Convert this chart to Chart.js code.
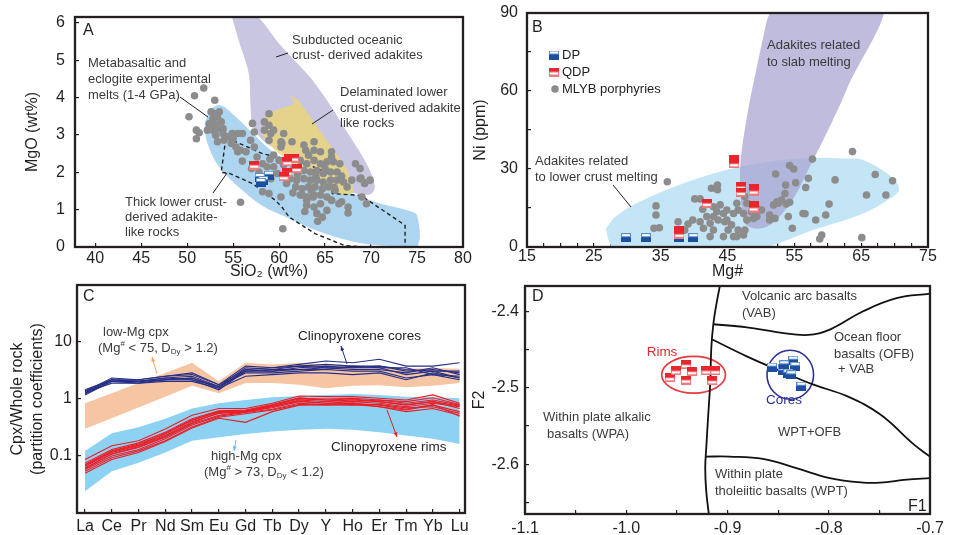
<!DOCTYPE html>
<html>
<head>
<meta charset="utf-8">
<script src="https://cdn.jsdelivr.net/npm/chart.js@4.4.1/dist/chart.umd.min.js"></script>
<style>
  body { margin: 0; background: #fff; width: 953px; height: 535px; position: relative; overflow: hidden; }
  canvas { position: absolute; }
</style>
</head>
<body>
<canvas id="cA" width="480" height="285" style="left:0;top:0"></canvas>
<canvas id="cB" width="491" height="285" style="left:462px;top:0"></canvas>
<canvas id="cC" width="480" height="255" style="left:0;top:280px"></canvas>
<canvas id="cD" width="491" height="255" style="left:462px;top:280px"></canvas>
<script>
// ── Panel A: MgO vs SiO2 ──
const siO2Ticks = [40, 45, 50, 55, 60, 65, 70, 75, 80];
const mgOTicks  = [0, 1, 2, 3, 4, 5, 6];
const mlybA = [
  [51.8,4.26],[50.8,4.05],[53.0,3.93],[50.2,3.49],[51.0,3.13],[51.3,3.06],[51.0,2.90],[55.8,1.2],[60.4,0.49],
  [64.2,0.69],[64.7,0.80],[67.5,1.07],[67.5,0.91],[68.9,1.85],[69.3,1.72],[66.8,1.21],[65.7,1.25],[63.0,1.25],
  [63.7,1.34],[62.5,1.39],[52.6,3.62],[53.1,3.57],[53.5,3.62],[52.8,3.44],[53.3,3.48],[52.4,3.30],[53.0,3.30],
  [53.7,3.35],[52.2,3.13],[52.8,3.13],[53.3,3.17],[53.9,3.17],[53.1,2.99],[53.9,3.04],[54.4,2.95],[54.9,3.04],
  [55.5,3.04],[56.0,3.04],[53.3,2.82],[54.0,2.86],[54.8,2.77],[55.3,2.68],[55.8,2.59],[56.4,2.55],[55.5,2.55],
  [56.9,2.86],[57.3,2.68],[57.1,3.31],[57.3,3.08],[58.4,3.13],[58.9,3.26],[59.1,3.04],[58.9,2.86],[57.6,2.41],
  [58.2,2.23],[58.7,2.15],[57.8,2.01],[58.4,1.79],[59.4,2.46],[60.0,2.32],[60.2,2.68],[60.3,2.77],[59.4,2.15],
  [59.8,1.97],[59.1,1.83],[58.2,1.48],[58.9,1.43],[60.2,1.34],[61.4,2.82],[62.9,2.59],[63.2,2.46],[63.8,2.59],
  [64.5,2.55],[65.7,2.55],[62.3,2.32],[63.0,2.23],[63.8,2.32],[64.5,2.23],[65.2,2.28],[65.9,2.28],[66.6,2.23],
  [62.7,2.05],[63.4,2.01],[64.1,2.05],[64.8,1.97],[65.6,2.01],[66.3,2.01],[61.2,1.83],[61.9,1.79],[62.7,1.83],
  [63.4,1.79],[64.1,1.79],[64.8,1.74],[65.6,1.79],[66.3,1.79],[61.8,1.61],[62.5,1.56],[63.2,1.61],[63.9,1.61],
  [64.7,1.56],[65.4,1.61],[62.3,1.39],[63.0,1.34],[63.8,1.39],[64.5,1.39],[65.2,1.34],[66.1,1.52],[63.0,1.12],
  [63.8,1.07],[64.5,1.16],[65.7,1.25],[66.5,1.16],[64.1,0.90],[65.2,0.98],[67.0,1.74],[67.4,1.61],[67.9,1.79],
  [68.8,1.83],[69.3,1.70],[69.0,1.34],[69.5,1.16],[69.9,1.79],[58.9,3.57],[58.4,3.35],[59.4,3.13],[60.5,3.04],
  [60.2,2.82],[62.7,2.73],[63.8,2.82],[65.7,2.41],[68.3,2.23],[68.8,2.10],[61.6,2.1],[62.0,1.95],[60.8,1.7],
  [61.5,1.45],[62.8,0.95],[63.5,1.5],[64.0,1.9],[65.0,2.1],[66.0,1.6],[66.8,1.9],[60.5,2.2],[59.0,2.35],
  [56.0,2.3],[57.0,2.1],[55.0,2.9]
];
const qdpA = [[57.3,2.19],[61.1,2.38],[61.6,2.38],[60.9,2.28],[61.9,2.1],[60.9,2.0],[60.5,1.88]];
const dpA  = [[58.9,1.92],[57.9,1.86],[58.3,1.78],[58.0,1.73]];
const fieldMetabasalt = [
  [52.4,3.68],[53.5,3.8],[54.6,3.64],[57.1,3.05],[59.3,2.55],[61.4,2.25],[63.9,1.95],[67.5,1.48],[71.1,1.16],
  [74.0,0.98],[75.0,0.85],[75.0,0.03],[72.0,0.03],[68.5,0.12],[64.0,0.45],[60.8,0.8],[58.2,1.1],[55.4,1.65],
  [53.3,2.2],[52.1,2.86],[51.9,3.3]
];
const fieldSlabA = [
  [54.7,6.3],[57.0,6.3],[60.3,5.36],[63.9,4.38],[67.5,3.04],[69.7,2.14],[70.4,1.62],[70.0,1.42],[68.6,1.42],
  [65.7,1.62],[62.5,2.2],[60.3,2.55],[58.5,2.8],[57.2,3.2],[56.9,3.75],[56.7,4.65],[55.7,5.45]
];
const fieldDelaminated = [
  [61.1,4.07],[61.6,3.85],[59.6,3.66],[58.5,3.49],[58.2,3.04],[58.9,2.77],[60.0,2.5],[62.1,2.14],[64.3,1.79],
  [65.7,1.47],[67.9,1.43],[67.9,1.7],[67.2,2.14],[65.7,2.68],[63.9,3.3],[62.1,3.93]
];
const fieldThickCrust = [
  [54.2,2.9],[53.7,2.0],[54.6,1.97],[57.1,1.7],[59.6,1.25],[60.3,1.07],[61.1,0.8],[63.9,0.36],[67.1,0.04],
  [69.5,0],[73.7,0],[73.7,0.58],[68.9,1.38],[65.8,1.43],[65.4,1.97],[62.9,2.23],[58.2,2.5],[54.9,2.86],[54.2,2.9]
];

// ── Panel B: Ni vs Mg# ──
const mgNoTicks = [15,17.5,20,22.5,25,27.5,30,32.5,35,37.5,40,42.5,45,47.5,50,52.5,55,57.5,60,62.5,65,67.5,70,72.5,75];
const niTicks   = [0, 15, 30, 45, 60, 75, 90];
const mlybB = [
  [36.0,25.1],[34.3,15.8],[34.3,12.3],[34.0,7.2],[34.8,7.4],[37.6,9.7],[39.1,8.8],[39.8,10.4],[38.6,6.5],
  [40.1,18.5],[40.9,18.5],[41.3,14.5],[41.9,11.7],[40.9,9.7],[41.4,7.2],[42.4,9.1],[42.9,6.5],[42.4,4.0],
  [42.6,22.6],[43.5,23.8],[43.5,22.0],[42.9,15.5],[43.9,16.2],[43.4,13.6],[44.4,12.9],[43.6,10.4],[44.6,9.7],
  [42.9,11.7],[44.9,14.2],[45.9,12.9],[44.9,10.4],[45.6,8.5],[45.1,6.5],[45.9,4.0],[44.4,4.0],[46.4,4.0],
  [46.4,16.8],[46.6,14.2],[47.4,12.9],[47.9,10.4],[46.6,6.5],[47.6,6.5],[47.4,4.6],[47.6,19.4],[47.9,16.8],
  [48.6,13.6],[48.9,11.0],[49.4,11.7],[50.1,14.2],[49.4,14.9],[51.3,12.3],[51.3,10.4],[51.9,16.2],[52.6,16.8],
  [53.1,18.1],[52.1,11.0],[52.4,17.4],[52.2,28.1],[53.6,20.6],[53.8,16.5],[54.3,17.2],[54.1,11.7],[54.7,7.2],
  [54.3,31.3],[54.9,30.0],[55.2,24.7],[53.7,23.8],[57.1,26.4],[56.7,22.9],[56.3,12.9],[56.6,12.8],[57.7,33.8],
  [58.2,10.4],[58.8,3.1],[59.1,4.6],[59.7,12.3],[60.2,16.5],[61.1,25.8],[63.7,36.7],[65.8,20.0],[67.1,27.9],
  [68.7,20.0],[69.7,25.5],[65.1,3.6]
];
const qdpB = [[46.0,33.5],[46.0,32.0],[47.0,23.2],[47.0,21.0],[48.9,22.5],[48.9,21.5],[48.9,16.0],[48.9,15.0],[41.9,16.8],[37.8,6.3],[37.8,4.9]];
const dpB  = [[29.8,3.6],[32.8,3.6],[37.8,3.6],[39.9,3.6]];
const fieldLowerCrust = [
  [26.8,7.0],[27.3,2.0],[28.5,-3],[45,-3],[50.4,-0.5],[57.8,6.5],[65.3,12.9],[69.8,19.4],[70.7,22.5],
  [69.3,27.5],[65.3,33.5],[62.8,34.0],[57.8,34.3],[50.4,32.5],[42.9,28.3],[35.9,22.0],[30.4,15.5],[27.9,11.0]
];
const fieldSlabB = [
  [52.3,96],[68.2,96],[62.8,60.4],[59.8,43.7],[57.3,30.9],[55.3,20.6],[52.8,11.7],[50.9,7.8],[48.9,7.2],
  [47.6,9.1],[47.1,15.5],[46.9,30.9],[47.9,50.1],[49.4,69.4],[50.9,87.3]
];

// ── Panel C: Cpx / whole rock partition coefficients ──
const ree = ['La','Ce','Pr','Nd','Sm','Eu','Gd','Tb','Dy','Y','Ho','Er','Tm','Yb','Lu'];
const cpxTicks = [0.1, 1, 10];
const lowMgUpper  = [0.84, 1.26, 1.9, 2.87, 4.33, 2.04, 4.33, 4.05, 4.33, 4.05, 3.9, 3.7, 3.4, 3.5, 3.4];
const lowMgLower  = [0.3, 0.46, 0.71, 1.1, 1.7, 1.26, 1.9, 1.9, 1.78, 1.55, 1.7, 1.75, 1.6, 1.7, 1.9];
const highMgUpper = [0.123, 0.25, 0.32, 0.45, 0.68, 0.84, 0.96, 1.07, 1.13, 1.18, 1.23, 1.18, 1.1, 1.07, 1.03];
const highMgLower = [0.024, 0.054, 0.076, 0.115, 0.185, 0.213, 0.244, 0.27, 0.288, 0.3, 0.288, 0.26, 0.228, 0.2, 0.162];
const cpxCores = [
  [1.18, 2.04, 1.9, 2.18, 2.34, 1.55, 3.3, 3.08, 3.53, 3.78, 3.53, 3.53, 2.68, 3.08, 2.34],
  [1.26, 2.18, 2.04, 2.34, 2.5, 1.66, 3.53, 3.3, 3.78, 4.05, 3.78, 3.78, 3.08, 3.3, 2.87],
  [1.35, 2.34, 2.18, 2.5, 2.87, 1.78, 3.78, 3.53, 4.05, 4.64, 4.33, 4.97, 3.78, 3.78, 4.33],
  [1.45, 2.18, 2.04, 2.18, 2.18, 1.66, 2.87, 2.87, 3.08, 3.3, 3.08, 3.08, 2.34, 2.68, 2.18],
  [1.3, 1.9, 1.9, 2.04, 2.04, 1.55, 2.5, 2.68, 2.87, 2.87, 2.68, 2.87, 2.18, 2.87, 2.34],
  [1.35, 2.04, 2.04, 2.34, 2.18, 1.45, 3.08, 3.08, 3.3, 3.53, 3.3, 3.3, 2.87, 3.53, 2.68],
  [1.4, 2.18, 2.18, 2.5, 2.68, 1.78, 3.3, 3.53, 3.78, 3.53, 3.53, 3.78, 3.3, 3.08, 3.08],
  [1.22, 2.04, 2.04, 2.18, 2.34, 1.66, 3.08, 3.3, 3.3, 3.3, 3.78, 3.53, 3.53, 2.68, 2.5]
];
const cpxRims = [
  [0.087, 0.151, 0.185, 0.299, 0.518, 0.68, 0.68, 0.84, 1.13, 1.10, 1.10, 1.03, 0.96, 1.18, 0.84],
  [0.071, 0.123, 0.162, 0.244, 0.422, 0.6, 0.62, 0.78, 1.03, 1.0, 1.03, 0.96, 0.84, 0.96, 0.78],
  [0.062, 0.107, 0.141, 0.213, 0.368, 0.52, 0.6, 0.7, 0.9, 0.84, 0.9, 0.84, 0.73, 0.84, 0.73],
  [0.054, 0.093, 0.123, 0.185, 0.321, 0.48, 0.55, 0.64, 0.8, 0.78, 0.8, 0.73, 0.64, 0.78, 0.6],
  [0.05, 0.087, 0.115, 0.18, 0.31, 0.46, 0.39, 0.6, 0.78, 0.8, 0.84, 0.73, 0.6, 0.68, 0.52],
  [0.066, 0.115, 0.151, 0.23, 0.4, 0.56, 0.6, 0.73, 0.96, 0.9, 0.96, 0.9, 0.78, 0.9, 0.68],
  [0.058, 0.1, 0.13, 0.2, 0.35, 0.5, 0.58, 0.66, 0.84, 0.8, 0.78, 0.8, 0.7, 0.73, 0.56],
  [0.075, 0.13, 0.17, 0.26, 0.45, 0.62, 0.64, 0.8, 1.05, 0.96, 0.9, 0.96, 0.9, 1.05, 0.8],
  [0.06, 0.11, 0.145, 0.22, 0.38, 0.58, 0.6, 0.75, 0.92, 0.84, 0.84, 0.78, 0.66, 0.8, 0.5],
  [0.068, 0.12, 0.155, 0.25, 0.43, 0.6, 0.62, 0.77, 1.0, 0.96, 1.0, 0.9, 0.8, 0.9, 0.75]
];

// ── Panel D: F1–F2 discrimination ──
const f1Ticks = [-1.1,-1.05,-1.0,-0.95,-0.9,-0.85,-0.8,-0.75,-0.7];
const f2Ticks = [-2.65,-2.6,-2.55,-2.5,-2.45,-2.4];
const rimsD  = [[-0.957,-2.487],[-0.951,-2.478],[-0.941,-2.470],[-0.935,-2.479],[-0.941,-2.490],[-0.921,-2.478],[-0.912,-2.478],[-0.915,-2.491]];
const coresD = [[-0.856,-2.473],[-0.845,-2.475],[-0.835,-2.464],[-0.833,-2.472],[-0.845,-2.478],[-0.840,-2.481],[-0.837,-2.483],[-0.827,-2.498],[-0.844,-2.470]];
const lineWpaBoundary = [[-0.905,-2.35],[-0.911,-2.391],[-0.914,-2.417],[-0.916,-2.448],[-0.917,-2.492],[-0.919,-2.535],[-0.921,-2.579],[-0.922,-2.605],[-0.921,-2.635],[-0.917,-2.68]];
const lineVab = [[-0.914,-2.417],[-0.881,-2.421],[-0.848,-2.428],[-0.820,-2.431],[-0.799,-2.424],[-0.766,-2.400],[-0.733,-2.383],[-0.700,-2.377]];
const lineOfb = [[-0.915,-2.437],[-0.881,-2.459],[-0.848,-2.478],[-0.815,-2.496],[-0.782,-2.511],[-0.749,-2.535],[-0.716,-2.574],[-0.700,-2.590]];
const lineWpt = [[-0.922,-2.590],[-0.898,-2.590],[-0.865,-2.593],[-0.832,-2.605],[-0.799,-2.618],[-0.766,-2.624],[-0.749,-2.624],[-0.723,-2.620],[-0.700,-2.618]];
const rimsEllipse  = [-0.965, -0.902, -2.459, -2.507];
const coresEllipse = [-0.861, -0.815, -2.451, -2.515];

// ── 通用样式 ──
const FONT = '"Liberation Sans", Arial, Helvetica, sans-serif';
const INK = '#231f20';
const NOTE = '#3a3a3a';
Chart.defaults.font.family = FONT;
Chart.defaults.font.size = 16;
Chart.defaults.color = INK;
Chart.defaults.animation = false;
Chart.defaults.plugins.legend.display = false;
Chart.defaults.plugins.tooltip.enabled = false;
Chart.defaults.elements.line.capBezierPoints = false;

const xy = a => a.map(([x, y]) => ({ x, y }));

function marker(kind) {
  const c = document.createElement('canvas');
  c.width = 10; c.height = 9;
  const g = c.getContext('2d');
  if (kind === 'red') {
    g.fillStyle = '#e8262c'; g.fillRect(0, 0, 10, 9);
    g.fillStyle = '#f07a7d'; g.fillRect(0, 4, 10, 5);
    g.fillStyle = '#ffffff'; g.fillRect(1, 5, 8, 2);
  } else {
    g.fillStyle = '#5d8fd0'; g.fillRect(0, 0, 10, 4);
    g.fillStyle = '#ffffff'; g.fillRect(1, 1, 8, 2);
    g.fillStyle = '#1d4f9f'; g.fillRect(0, 4, 10, 5);
  }
  return c;
}
const redMark = marker('red');
const blueMark = marker('blue');

function axis(o) {
  return {
    type: o.type || 'linear', min: o.min, max: o.max, bounds: 'data',
    border: { display: false },
    grid: { drawOnChartArea: false, drawTicks: true, tickLength: -4, lineWidth: 1.2, color: INK },
    ticks: { autoSkip: false, maxRotation: 0, padding: o.pad, color: INK, font: { size: 16 },
             callback: o.label || (v => String(v)) },
    title: o.title ? { display: true, text: o.title, color: INK, font: { size: 16 }, padding: o.titlePad }
                   : { display: false },
    afterBuildTicks: s => { s.ticks = o.ticks.map(v => ({ value: v })); },
    afterFit: s => {
      if (s.isHorizontal()) s.height = o.size; else s.width = o.size;
      s.paddingLeft = s.paddingRight = s.paddingTop = s.paddingBottom = 0;
    },
  };
}

const dots = (data, r) => ({ data: xy(data), pointRadius: r || 3.8, pointBackgroundColor: '#8c8c8c',
  pointBorderWidth: 0, order: 2 });
const marks = (data, img) => ({ data: xy(data), pointStyle: img, pointRadius: 5, order: 1 });
const field = (data, color, order) => ({ data: xy(data), showLine: true, fill: 'shape', backgroundColor: color,
  borderColor: 'transparent', borderWidth: 0, pointRadius: 0, tension: 0.35, order });
const curve = (data, color, width, tension, order) => ({ data: xy(data), showLine: true, fill: false,
  borderColor: color, borderWidth: width, pointRadius: 0, tension, order });
const series = vals => vals.map((v, i) => ({ x: i, y: v }));
const atTenth = v => Math.abs(Math.round(v * 10) - v * 10) < 1e-6;

const framePlugin = {
  id: 'frame',
  afterDraw(chart) {
    const { ctx, chartArea: a } = chart;
    ctx.save();
    ctx.strokeStyle = INK; ctx.lineWidth = 2.3;
    ctx.strokeRect(a.left, a.top, a.right - a.left, a.bottom - a.top);
    ctx.restore();
  }
};

function drawArrowHead(ctx, x1, y1, x2, y2, color) {
  const ang = Math.atan2(y2 - y1, x2 - x1), s = 5;
  ctx.fillStyle = color;
  ctx.beginPath();
  ctx.moveTo(x2, y2);
  ctx.lineTo(x2 - s * Math.cos(ang - 0.4), y2 - s * Math.sin(ang - 0.4));
  ctx.lineTo(x2 - s * Math.cos(ang + 0.4), y2 - s * Math.sin(ang + 0.4));
  ctx.closePath();
  ctx.fill();
}

function drawRich(ctx, x, y, parts, size, color) {
  ctx.fillStyle = color; ctx.textAlign = 'left'; ctx.textBaseline = 'middle';
  for (const p of parts) {
    const s = p.small ? size * 0.62 : size;
    ctx.font = `${s}px ${FONT}`;
    ctx.fillText(p.t, x, y + (p.dy || 0));
    x += ctx.measureText(p.t).width;
  }
}

// 注释层：页面坐标，按画布偏移换算
function notes(dx, dy, spec) {
  return {
    id: 'notes',
    afterDatasetsDraw(chart) {
      const ctx = chart.ctx;
      ctx.save();
      ctx.translate(-dx, -dy);
      for (const l of spec.lines || []) {
        const c = l.color || INK;
        ctx.strokeStyle = c; ctx.lineWidth = l.w || 1;
        ctx.beginPath(); ctx.moveTo(l.p[0], l.p[1]); ctx.lineTo(l.p[2], l.p[3]); ctx.stroke();
        if (l.arrow) drawArrowHead(ctx, l.p[0], l.p[1], l.p[2], l.p[3], c);
      }
      for (const m of spec.marks || []) {
        if (m.img) ctx.drawImage(m.img, m.x - m.img.width / 2, m.y - m.img.height / 2);
        else { ctx.fillStyle = '#8c8c8c'; ctx.beginPath(); ctx.arc(m.x, m.y, 3.8, 0, Math.PI * 2); ctx.fill(); }
      }
      for (const t of spec.texts || []) {
        ctx.font = `${t.size || 13}px ${FONT}`;
        ctx.fillStyle = t.color || NOTE;
        ctx.textAlign = t.align || 'left';
        ctx.textBaseline = 'middle';
        ctx.fillText(t.s, t.x, t.y);
      }
      for (const r of spec.rich || []) drawRich(ctx, r.x, r.y, r.parts, 13, NOTE);
      ctx.restore();
    }
  };
}

function mk(id, data, scales, padding, plugins) {
  return new Chart(document.getElementById(id), {
    type: 'scatter',
    data: { datasets: data },
    options: { responsive: false, maintainAspectRatio: false, layout: { padding }, scales,
               events: [] },
    plugins: [...plugins, framePlugin],
  });
}

// ── A ──
mk('cA', [
  dots(mlybA),
  marks(qdpA, redMark),
  marks(dpA, blueMark),
  { ...curve(fieldThickCrust, '#222', 1.4, 0, 3), borderDash: [4, 3] },
  field(fieldDelaminated, 'rgba(236,214,120,0.82)', 4),
  field(fieldSlabA, '#c9c6e2', 5),
  field(fieldMetabasalt, '#aed5f0', 6),
], {
  x: axis({ min: 37.8, max: 80, ticks: siO2Ticks, size: 38, pad: 5.7,
            title: 'SiO₂ (wt%)', titlePad: { top: 0, bottom: 3.9 } }),
  y: axis({ min: 0, max: 6.16, ticks: mgOTicks, size: 75, pad: 14,
            title: 'MgO (wt%)', titlePad: { top: 23, bottom: 0 } }),
}, { top: 17, right: 17, left: 0, bottom: 0 }, [notes(0, 0, {
  lines: [{ p: [180, 97, 208, 117] }, { p: [333, 110, 312, 124] }, { p: [288, 53, 276, 57] }, { p: [213, 193, 227, 173] }],
  texts: [
    { s: 'A', x: 83, y: 31, size: 16, color: INK },
    { s: 'Subducted oceanic', x: 292, y: 40 },
    { s: 'crust- derived adakites', x: 292, y: 55 },
    { s: 'Metabasaltic and', x: 88, y: 63 },
    { s: 'eclogite experimental', x: 88, y: 79 },
    { s: 'melts (1-4 GPa)', x: 88, y: 95 },
    { s: 'Delaminated lower', x: 340, y: 92 },
    { s: 'crust-derived adakite', x: 340, y: 108 },
    { s: 'like rocks', x: 340, y: 123 },
    { s: 'Thick lower crust-', x: 125, y: 202 },
    { s: 'derived adakite-', x: 125, y: 217 },
    { s: 'like rocks', x: 125, y: 232 },
  ],
})]);

// ── B ──
mk('cB', [
  dots(mlybB),
  marks(qdpB, redMark),
  marks(dpB, blueMark),
  field(fieldSlabB, 'rgba(168,162,208,0.72)', 4),
  field(fieldLowerCrust, '#c4e5f6', 5),
], {
  x: axis({ min: 15, max: 75, ticks: mgNoTicks, size: 38, pad: 4.4,
            label: v => ((v - 15) % 10 === 0 ? String(v) : ''),
            title: 'Mg#', titlePad: { top: 0, bottom: 3.9 } }),
  y: axis({ min: 0, max: 90, ticks: niTicks, size: 65, pad: 13,
            label: v => (v % 30 === 0 ? String(v) : ''),
            title: 'Ni (ppm)', titlePad: { top: 9.4, bottom: 0 } }),
}, { top: 13, right: 25, left: 0, bottom: 0 }, [notes(462, 0, {
  lines: [{ p: [613, 185, 631, 207] }],
  marks: [{ img: blueMark, x: 554, y: 55 }, { img: redMark, x: 554, y: 72 }, { x: 555, y: 89 }],
  texts: [
    { s: 'B', x: 532, y: 28, size: 16, color: INK },
    { s: 'DP', x: 562, y: 55, color: INK },
    { s: 'QDP', x: 562, y: 72, color: INK },
    { s: 'MLYB porphyries', x: 562, y: 89, color: INK },
    { s: 'Adakites related', x: 767, y: 45 },
    { s: 'to slab melting', x: 767, y: 62 },
    { s: 'Adakites related', x: 535, y: 161 },
    { s: 'to lower crust melting', x: 535, y: 177 },
  ],
})]);

// ── C ──
const bandDs = (upper, lower, color) => [
  { data: series(upper), showLine: true, fill: '+1', backgroundColor: color, borderColor: 'transparent',
    borderWidth: 0, pointRadius: 0, order: 5 },
  { data: series(lower), showLine: true, fill: false, borderColor: 'transparent', borderWidth: 0,
    pointRadius: 0, order: 5 },
];
const lineDs = (vals, color) => ({ data: series(vals), showLine: true, fill: false, borderColor: color,
  borderWidth: 1.1, pointRadius: 0, tension: 0, order: 1 });
mk('cC', [
  ...bandDs(lowMgUpper, lowMgLower, '#f6c6a4'),
  ...bandDs(highMgUpper, highMgLower, '#8dd2f2'),
  ...cpxCores.map(v => lineDs(v, '#262f87')),
  ...cpxRims.map(v => lineDs(v, '#ec1c24')),
], {
  x: axis({ min: -0.3, max: 14.2, ticks: ree.map((_, i) => i), size: 22, pad: 8.4,
            label: v => ree[v] || '' }),
  y: axis({ type: 'logarithmic', min: 0.01, max: 100, ticks: cpxTicks, size: 77, pad: 9,
            label: v => String(v),
            title: ['Cpx/Whole rock', '(partition coefficients)'], titlePad: { top: 8.4, bottom: 0 } }),
}, { top: 5, right: 15, left: 0, bottom: 0 }, [notes(0, 280, {
  lines: [
    { p: [157, 374, 152, 357], color: '#f5a45e', arrow: true },
    { p: [347, 364, 341, 346], color: '#262f87', arrow: true },
    { p: [387, 410, 397, 437], color: '#ec1c24', arrow: true },
    { p: [236, 440, 234, 451], color: '#5fc2ec', arrow: true },
  ],
  texts: [
    { s: 'C', x: 83, y: 297, size: 16, color: INK },
    { s: 'low-Mg cpx', x: 103, y: 332 },
    { s: 'Clinopyroxene cores', x: 298, y: 336, size: 13.5, color: INK },
    { s: 'Clinopyroxene rims', x: 331, y: 447, size: 13.5, color: INK },
    { s: 'high-Mg cpx', x: 211, y: 456 },
  ],
  rich: [
    { x: 98, y: 348, parts: [{ t: '(Mg' }, { t: '#', small: 1, dy: -4 }, { t: ' < 75, D' }, { t: 'Dy', small: 1, dy: 4 }, { t: ' > 1.2)' }] },
    { x: 204, y: 472, parts: [{ t: '(Mg' }, { t: '#', small: 1, dy: -4 }, { t: ' > 73, D' }, { t: 'Dy', small: 1, dy: 4 }, { t: ' < 1.2)' }] },
  ],
})]);

// ── D ──
const ellipsePlugin = {
  id: 'ellipses',
  beforeDatasetsDraw(chart) {
    const { ctx, scales: { x, y } } = chart;
    for (const [b, color] of [[rimsEllipse, '#e8383d'], [coresEllipse, '#2e3192']]) {
      const x0 = x.getPixelForValue(b[0]), x1 = x.getPixelForValue(b[1]);
      const y0 = y.getPixelForValue(b[2]), y1 = y.getPixelForValue(b[3]);
      ctx.save();
      ctx.strokeStyle = color; ctx.lineWidth = 1.6;
      ctx.beginPath();
      ctx.ellipse((x0 + x1) / 2, (y0 + y1) / 2, Math.abs(x1 - x0) / 2, Math.abs(y1 - y0) / 2, 0, 0, Math.PI * 2);
      ctx.stroke();
      ctx.restore();
    }
  }
};
mk('cD', [
  marks(rimsD, redMark),
  marks(coresD, blueMark),
  curve(lineWpaBoundary, '#111', 1.8, 0.4, 3),
  curve(lineVab, '#111', 1.8, 0.4, 3),
  curve(lineOfb, '#111', 1.8, 0.4, 3),
  curve(lineWpt, '#111', 1.8, 0.4, 3),
], {
  x: axis({ min: -1.1, max: -0.7, ticks: f1Ticks, size: 21, pad: 9.4,
            label: v => (atTenth(v) ? v.toFixed(1) : '') }),
  y: axis({ min: -2.665, max: -2.367, ticks: f2Ticks, size: 63, pad: 10,
            label: v => (atTenth(v) ? v.toFixed(1) : ''),
            title: 'F2', titlePad: { top: 8.4, bottom: 0 } }),
}, { top: 5, right: 23, left: 0, bottom: 0 }, [ellipsePlugin, notes(462, 280, {
  texts: [
    { s: 'D', x: 532, y: 297, size: 16, color: INK },
    { s: 'Volcanic arc basalts', x: 742, y: 296 },
    { s: '(VAB)', x: 742, y: 313 },
    { s: 'Ocean floor', x: 834, y: 337 },
    { s: 'basalts (OFB)', x: 834, y: 354 },
    { s: '+ VAB', x: 838, y: 369 },
    { s: 'Rims', x: 662, y: 352, align: 'center', color: '#e8262c', size: 13.5 },
    { s: 'Cores', x: 784, y: 400, align: 'center', color: '#2e3192', size: 13.5 },
    { s: 'Within plate alkalic', x: 543, y: 417 },
    { s: 'basalts (WPA)', x: 547, y: 434 },
    { s: 'WPT+OFB', x: 778, y: 432 },
    { s: 'Within plate', x: 715, y: 474 },
    { s: 'tholeiitic basalts (WPT)', x: 715, y: 491 },
    { s: 'F1', x: 908, y: 507, size: 16, color: INK },
  ],
})]);
</script>
</body>
</html>
